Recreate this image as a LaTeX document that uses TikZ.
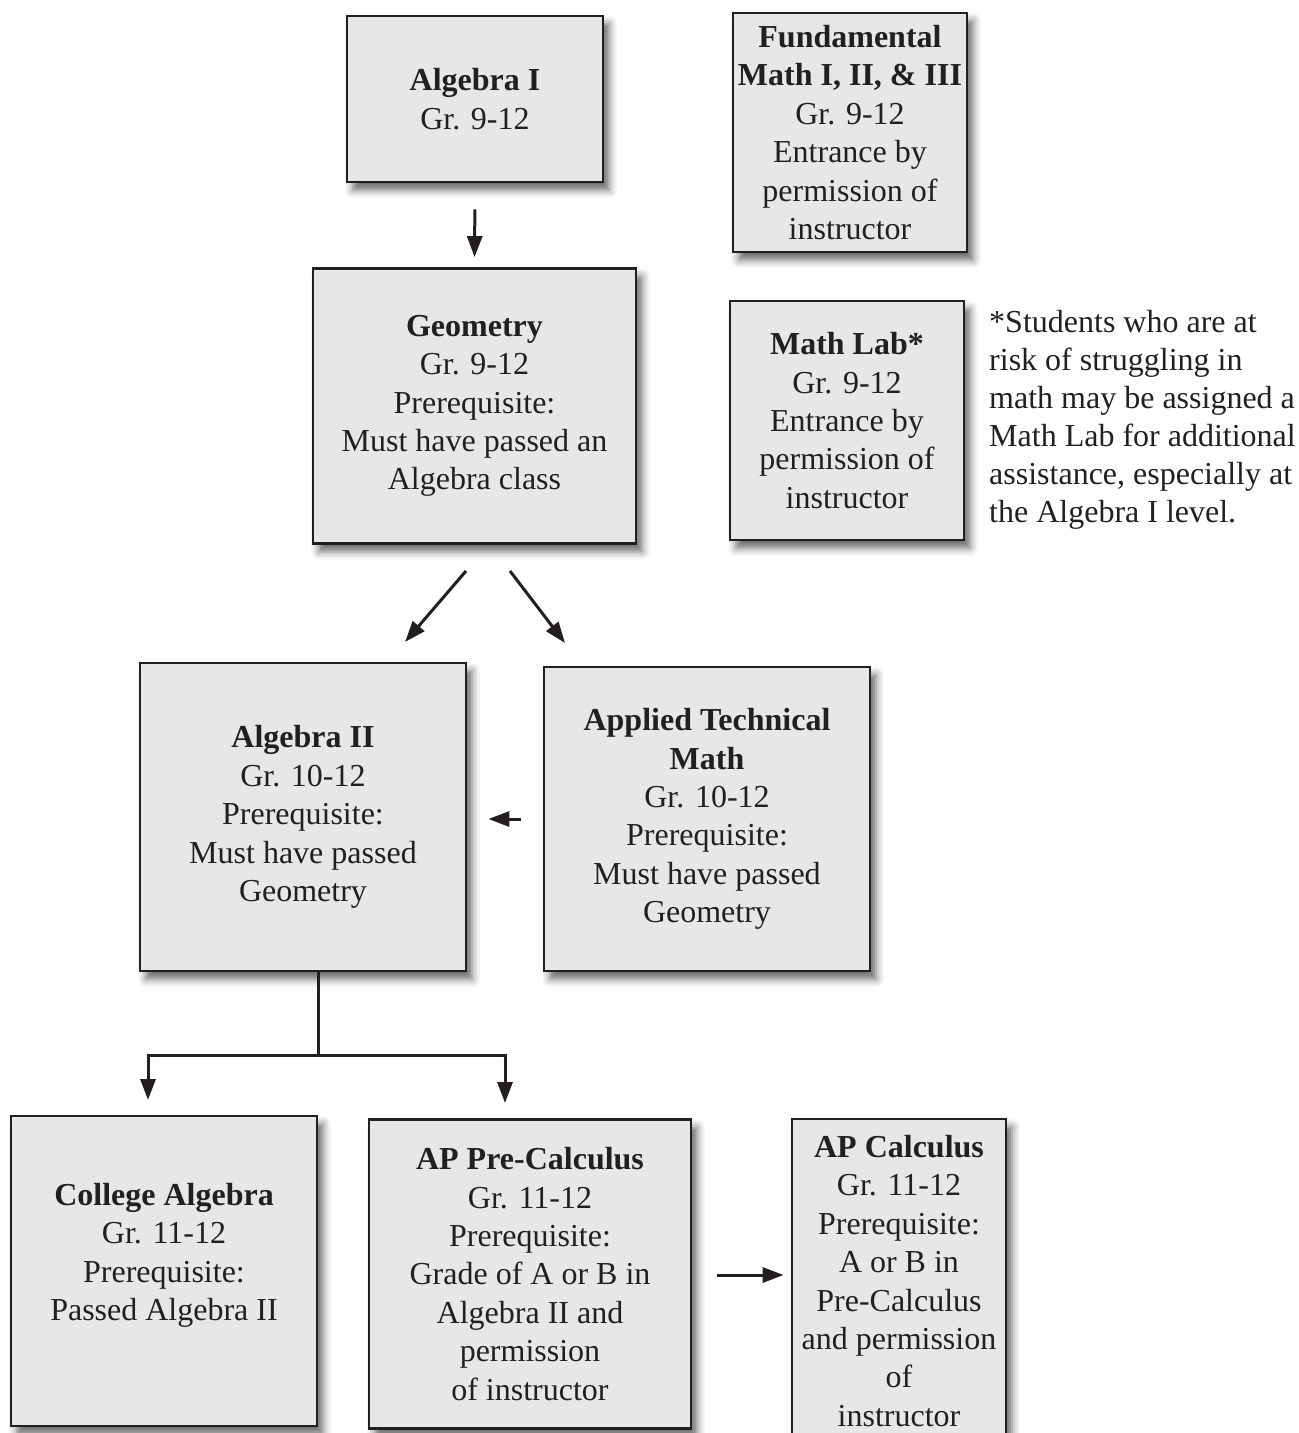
\documentclass[tikz,border=0pt]{standalone}
\usepackage{fontspec}
\setmainfont{Liberation Serif}
\usetikzlibrary{arrows.meta,shadows.blur,calc}
\definecolor{boxfill}{HTML}{E6E7E8}
\definecolor{boxline}{HTML}{231F20}
\begin{document}
\begin{tikzpicture}[x=1pt,y=-1pt,
  box/.style={draw=boxline, line width=2.8pt, fill=boxfill, inner sep=0pt, align=center,
    text=boxline, font=\fontsize{32}{38.4}\selectfont,
    blur shadow={shadow xshift=6pt, shadow yshift=-8pt, shadow blur radius=8pt, shadow opacity=60}},
  arr/.style={line width=3pt, draw=boxline, -{Triangle[length=21pt,width=15pt]}},
  ln/.style={line width=3pt, draw=boxline},
  note/.style={align=left, inner sep=0pt, text=boxline, font=\fontsize{32}{38.1}\selectfont}]
\useasboundingbox (0,0) rectangle (1299,1433);
\clip (0,0) rectangle (1299,1433);

\node[box, minimum width=256pt, minimum height=166pt] (alg1) at (475,99)
  {\textbf{Algebra I}\\Gr. 9-12};
\node[box, minimum width=234pt, minimum height=239pt] (fund) at (850,132.5)
  {\textbf{Fundamental}\\\textbf{Math I, II, \& III}\\Gr. 9-12\\Entrance by\\permission of\\instructor};
\node[box, minimum width=323pt, minimum height=275pt] (geom) at (474.5,406)
  {\textbf{Geometry}\\Gr. 9-12\\Prerequisite:\\Must have passed an\\Algebra class};
\node[box, minimum width=234pt, minimum height=239pt] (lab) at (847,420.5)
  {\textbf{Math Lab*}\\Gr. 9-12\\Entrance by\\permission of\\instructor};
\node[note, anchor=west] (labnote) at (989,420)
  {*Students who are at\\risk of struggling in\\math may be assigned a\\Math Lab for additional\\assistance, especially at\\the Algebra I level.};
\node[box, minimum width=326pt, minimum height=308pt] (alg2) at (303,817)
  {\textbf{Algebra II}\\Gr. 10-12\\Prerequisite:\\Must have passed\\Geometry};
\node[box, minimum width=326pt, minimum height=304pt] (atm) at (707,819)
  {\textbf{Applied Technical}\\\textbf{Math}\\Gr. 10-12\\Prerequisite:\\Must have passed\\Geometry};
\node[box, minimum width=306pt, minimum height=310pt] (coll) at (164,1271)
  {\textbf{College Algebra}\\Gr. 11-12\\Prerequisite:\\Passed Algebra II\\\mbox{}};
\node[box, minimum width=322pt, minimum height=309pt] (pre) at (530,1274)
  {\textbf{AP Pre-Calculus}\\Gr. 11-12\\Prerequisite:\\Grade of A or B in\\Algebra II and\\permission\\of instructor};
\node[box, minimum width=214pt, minimum height=324pt] (calc) at (899,1281)
  {\textbf{AP Calculus}\\Gr. 11-12\\Prerequisite:\\A or B in\\Pre-Calculus\\and permission\\of\\instructor};

% connectors
\draw[arr, shorten <=26pt, shorten >=10pt] (alg1.south) -- (geom.north);
\coordinate (gl) at (466,571);
\coordinate (gr) at (510,571);
\coordinate (a2in) at (405,642);
\coordinate (atin) at (565,643);
\draw[arr] (gl) -- (a2in);
\draw[arr] (gr) -- (atin);
\draw[arr, shorten <=22pt, shorten >=21pt] (atm.west) -- (alg2.east |- atm.west);
\coordinate (a2out) at (318,970);
\coordinate (junc) at (318,1055);
\coordinate (cin) at (148,1100);
\coordinate (pin) at (505,1103);
\draw[ln] (a2out) -- (junc);
\draw[arr] (junc) -| (cin);
\draw[arr] (junc) -| (pin);
\draw[arr, shorten <=25pt, shorten >=7pt] (pre.east |- 0,1275) -- (calc.west |- 0,1275);
\end{tikzpicture}
\end{document}
